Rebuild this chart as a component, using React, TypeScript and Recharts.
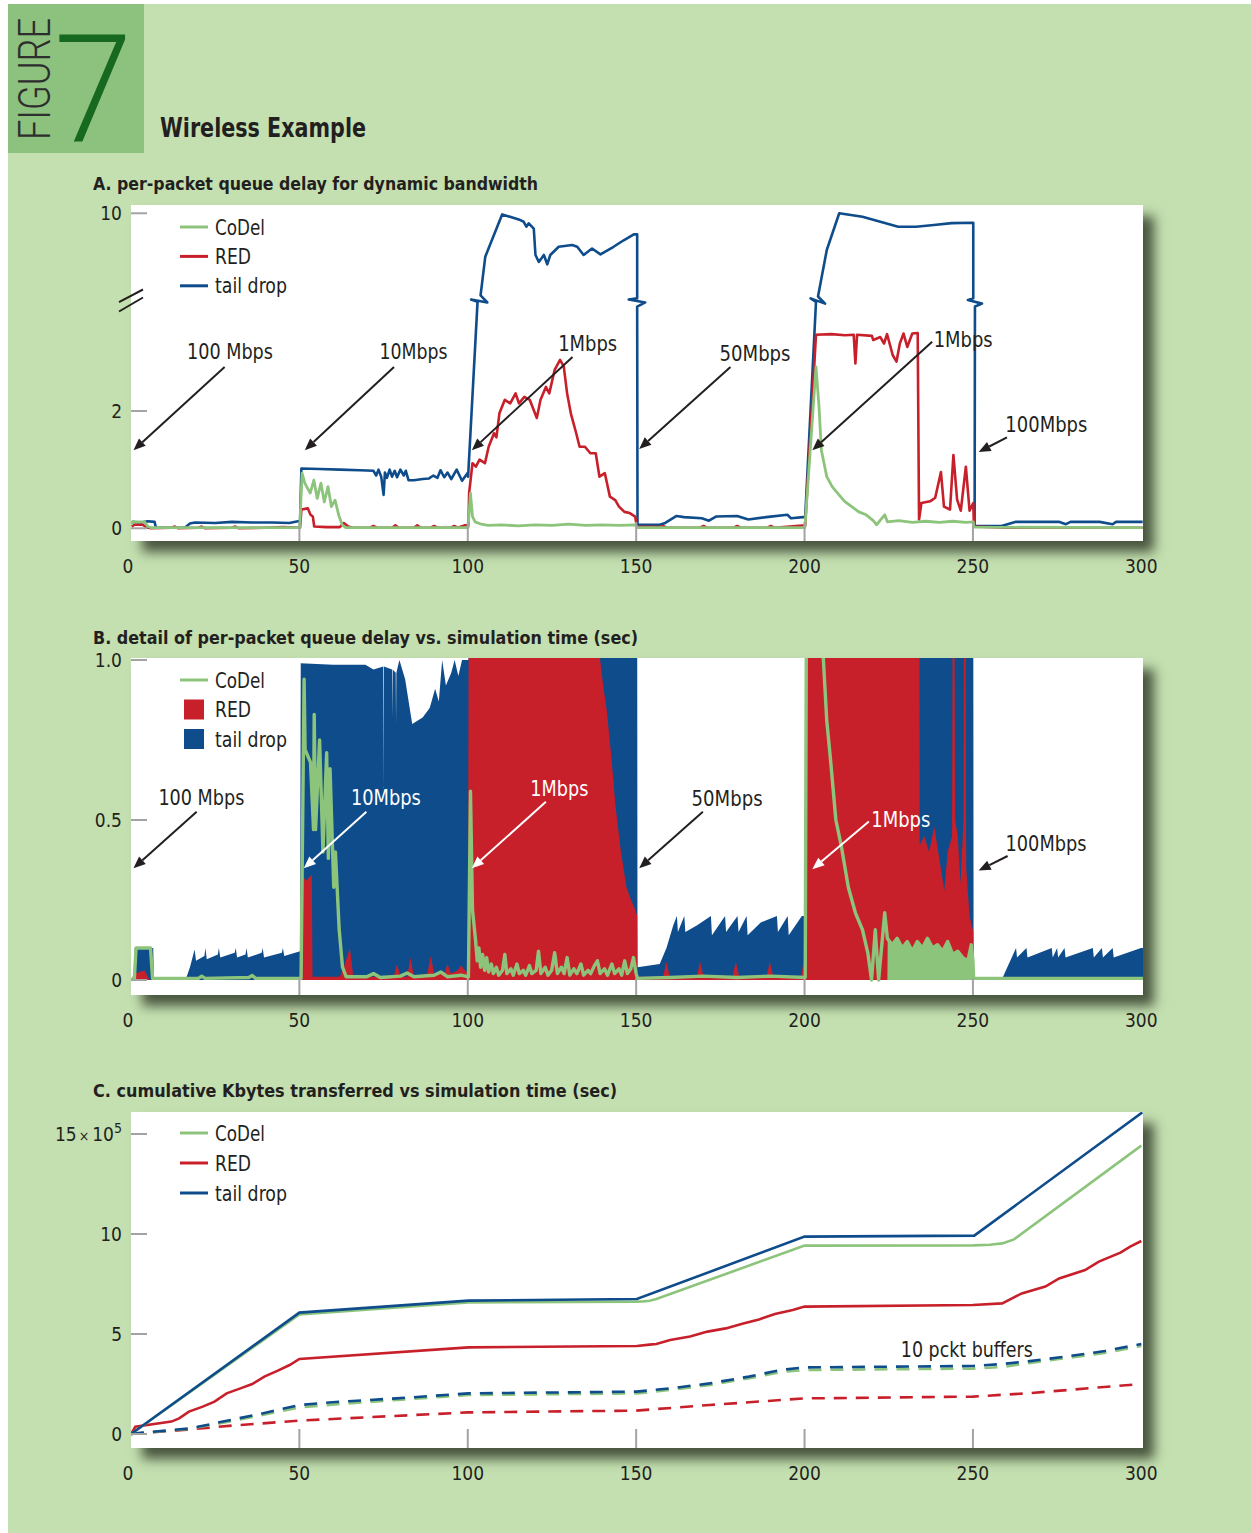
import React from 'react'
import {
  ComposedChart, Line, Area, XAxis, YAxis, ReferenceLine, ReferenceDot, Legend,
} from 'recharts'

const INK = '#231f20'
const CODEL = '#8cc47c'
const RED = '#c8202a'
const TAIL = '#0f4c8b'
const TICK = '#a3a3a3'
const BG = '#c4e0b0'
const FONT = "'DejaVu Sans Condensed', 'DejaVu Sans', sans-serif"

type Pt = [number, number]

// ---- shared axis values ----
const xTicks = [0, 50, 100, 150, 200, 250, 300]

// ---- A. per-packet queue delay (seconds) ----
const tailDropA: Pt[] = [
  [0.2, 0.11], [3, 0.1], [5, 0.12], [7, 0.11], [7.4, 0.01], [16, 0.01], [17.5, 0.08], [19, 0.1], [25, 0.09],
  [30, 0.11], [36, 0.1], [42, 0.1], [47, 0.09], [49.6, 0.12], [50.2, 0.12], [50.6, 1.02], [56, 1.01], [62, 1.0],
  [68, 0.99], [72, 0.98], [72.8, 0.9], [73.5, 1.0], [74.3, 0.88], [75, 0.57], [75.4, 0.95], [76, 0.86], [76.8, 1.0],
  [77.5, 0.88], [78.3, 0.98], [79, 0.87], [80, 1.0], [81, 0.9], [81.6, 0.98], [82.4, 0.82], [84, 0.82], [86.6, 0.84],
  [88.5, 0.85], [89.8, 0.9], [91, 0.86], [91.9, 0.99], [93, 0.87], [94, 0.95], [95.1, 0.84], [96.7, 1.0], [98.3, 0.81],
  [99.9, 0.94], [100.1, 0.88], [102.9, 3.86], [101.0, 3.9], [105.8, 3.85], [103.8, 4.19], [105.2, 6.93], [110.2, 9.92],
  [115.6, 9.52], [116.6, 9.4], [117.4, 9.05], [118.1, 9.29], [119.6, 8.92], [120.1, 7.05], [121.1, 6.56], [122.6, 7.05],
  [123.6, 6.39], [124.5, 7.05], [127, 7.63], [131, 7.76], [132.5, 7.63], [134.4, 7.05], [136.9, 7.51], [139.4, 7.09],
  [143.3, 7.63], [146.3, 8.09], [149.3, 8.51], [150.3, 8.51], [150.3, 3.98], [147.8, 3.9], [152.7, 3.85], [150.3, 3.78],
  [150.4, 0.06], [157, 0.06], [158.4, 0.085], [162, 0.21], [164.2, 0.19], [169.5, 0.17], [171.6, 0.13], [173.7, 0.2],
  [180, 0.21], [183.3, 0.15], [188.6, 0.19], [194.9, 0.23], [196, 0.17], [199.6, 0.19], [200.2, 0.2], [203.4, 3.86],
  [201.8, 3.98], [206.1, 3.83], [204, 4.11], [206.6, 7.4], [210.3, 10], [217.2, 9.75], [222.5, 9.4], [227.8, 9.05],
  [233.1, 9.05], [238.4, 9.17], [243.7, 9.3], [250.1, 9.33], [250.1, 3.98], [248.5, 3.89], [252.7, 3.83], [250.6, 3.78],
  [250.5, 0.04], [258.5, 0.04], [262.8, 0.11], [275.5, 0.11], [277.6, 0.07], [279, 0.11], [287.6, 0.11], [291.5, 0.07],
  [292.5, 0.11], [300.4, 0.11],
]
const redA: Pt[] = [
  [0.2, 0.03], [1, 0.06], [3.5, 0.06], [4.5, 0.02], [6, 0.0], [12, 0.01], [13, 0.03], [14, 0.0], [20, 0.01], [21, 0.03],
  [22, 0.0], [30, 0.01], [31, 0.03], [32, 0], [40, 0.01], [45, 0.02], [50.2, 0.01], [50.6, 0.32], [52.5, 0.34], [53.3, 0.23],
  [54, 0.2], [54.4, 0.03], [58, 0.02], [62, 0.02], [63.2, 0.09], [64.5, 0.03], [66, 0.01], [71, 0.01], [72, 0.04], [73, 0.01],
  [77.5, 0.01], [78.5, 0.05], [79.5, 0.01], [84, 0.01], [85, 0.05], [86, 0.01], [89, 0.01], [90, 0.04], [91, 0.01], [95, 0.01],
  [96, 0.04], [97, 0.01], [99, 0.05], [100.2, 0.05], [100.4, 0.6], [101.4, 1.11], [102.4, 1.05], [103.5, 1.17], [105.1, 1.11],
  [106.2, 1.39], [107.8, 1.62], [108.5, 1.55], [109.4, 1.96], [111, 2.19], [112.6, 2.13], [114.2, 2.3], [115.2, 2.13],
  [116.8, 2.24], [118.4, 2.19], [120.5, 1.88], [121.6, 2.19], [123.2, 2.41], [124.2, 2.3], [125.8, 2.7], [127.4, 2.87],
  [128.5, 2.76], [129.5, 2.3], [130.6, 1.96], [132.2, 1.62], [133.2, 1.39], [134.8, 1.39], [136.4, 1.28], [138, 1.28],
  [139.1, 0.88], [140.7, 0.94], [142.2, 0.54], [143.8, 0.48], [144.9, 0.37], [146.5, 0.28], [148.1, 0.26], [149.7, 0.2],
  [150.2, 0.03], [157, 0.02], [158, 0.04], [159, 0.01], [169, 0.01], [170, 0.04], [171, 0.01], [179, 0.01], [180, 0.04],
  [181, 0.01], [189, 0.01], [190, 0.04], [191, 0.01], [200.2, 0.05], [203.4, 3.3], [208, 3.31], [212, 3.29], [214.6, 3.3],
  [215.1, 2.81], [215.6, 3.3], [220, 3.28], [220.4, 3.21], [222.5, 3.26], [223.6, 3.15], [224.5, 3.31], [226.2, 2.95],
  [227.3, 2.84], [228.3, 3.15], [229.4, 3.32], [230.5, 3.09], [232, 3.32], [233.6, 3.33], [234, 0.15], [234.7, 0.43],
  [237.3, 0.46], [238.8, 0.52], [240.5, 0.96], [241.4, 0.37], [243.2, 0.32], [244.2, 1.25], [245.3, 0.49], [246.4, 0.3],
  [247.9, 1.05], [249, 0.3], [250.1, 0.43], [250.3, 0.03], [260, 0.01], [300.4, 0.01],
]
const codelA: Pt[] = [
  [0.2, 0.06], [0.5, 0.11], [4, 0.11], [5, 0.03], [6, 0.01], [50.1, 0.01], [50.8, 0.94], [51.6, 0.77], [53.2, 0.6],
  [54.3, 0.82], [55.3, 0.51], [56.4, 0.77], [57.4, 0.45], [58.5, 0.71], [59.5, 0.37], [60.6, 0.48], [61.7, 0.22],
  [62.7, 0.06], [63.8, 0.01], [100.1, 0.01], [100.8, 0.6], [101.4, 0.2], [102.2, 0.11], [104, 0.07], [106, 0.05],
  [110, 0.06], [115, 0.04], [120, 0.06], [125, 0.05], [130, 0.07], [135, 0.05], [140, 0.06], [145, 0.05], [149.8, 0.06],
  [150.3, 0.01], [200.1, 0.01], [203.4, 2.75], [204.3, 2.07], [205, 1.33], [206.6, 0.88], [208.2, 0.71], [209.8, 0.6],
  [211.9, 0.46], [214, 0.37], [216.1, 0.28], [218.3, 0.23], [220.4, 0.13], [221.4, 0.06], [222.5, 0.14], [223.8, 0.23],
  [224.6, 0.11], [228, 0.13], [232, 0.1], [236, 0.12], [240, 0.1], [244, 0.12], [248, 0.1], [250.1, 0.11], [250.3, 0.02],
  [300.4, 0.01],
]
const yTicksA = [0, 2, 10]

// ---- B. detail of per-packet queue delay (seconds) ----
const tailDropB: Pt[] = [
  [0, 0], [1, 0], [1.1, 0.1], [6.6, 0.1], [6.8, 0], [16.2, 0], [17.5, 0.04], [18.9, 0.095], [19.3, 0.06], [21.8, 0.075],
  [22.1, 0.1], [22.5, 0.065], [25.8, 0.08], [26.1, 0.1], [26.5, 0.07], [30.8, 0.085], [31.1, 0.1], [31.5, 0.07], [34, 0.08],
  [34.3, 0.1], [34.7, 0.07], [38.8, 0.085], [39.1, 0.1], [39.5, 0.07], [44.8, 0.085], [45.1, 0.1], [45.5, 0.075],
  [50.2, 0.09], [50.4, 0.99], [60, 0.985], [69.6, 0.985], [72, 0.97], [74.9, 0.98], [75.0, 0.6], [75.1, 0.98], [77.5, 0.97],
  [77.6, 0.82], [77.7, 0.97], [78.6, 0.96], [78.7, 0.8], [78.8, 0.96], [79.7, 1.0], [81.4, 0.94], [83.5, 0.8], [86.6, 0.82],
  [88.7, 0.85], [90.3, 0.91], [91.4, 0.87], [92.4, 1.0], [93.5, 0.92], [95.1, 0.96], [96.1, 1.0], [97.2, 0.95], [98.3, 1.0],
  [100.2, 1.0], [100.3, 1.2], [150.3, 1.2], [150.4, 0.04], [157, 0.05], [159, 0.1], [161, 0.17], [162.1, 0.2], [162.4, 0.15],
  [164.3, 0.2], [164.6, 0.15], [168, 0.17], [172.2, 0.2], [172.5, 0.14], [176.4, 0.2], [176.7, 0.15], [180.1, 0.2],
  [180.4, 0.15], [182.8, 0.2], [183.1, 0.14], [187, 0.18], [191.8, 0.2], [192.1, 0.15], [195, 0.2], [195.3, 0.14],
  [199.2, 0.2], [200.2, 0.2], [200.3, 1.2], [250.1, 1.2], [250.2, 0], [258.5, 0], [262.8, 0.1], [263.1, 0.07], [265.9, 0.1],
  [266.2, 0.07], [273.4, 0.1], [273.7, 0.07], [275, 0.1], [275.3, 0.07], [277.2, 0.1], [277.5, 0.07], [285.6, 0.1],
  [285.9, 0.07], [288.3, 0.1], [288.6, 0.07], [291.5, 0.1], [291.8, 0.07], [299.9, 0.1], [300.5, 0.1],
]
const redB: Pt[] = [
  [0, 0], [1, 0.02], [4, 0.03], [5.5, 0], [50.4, 0], [50.6, 0.33], [52, 0.31], [53.7, 0.33], [53.9, 0.01], [62, 0.01],
  [63.5, 0.05], [65, 0.1], [66, 0.01], [78, 0.01], [79, 0.05], [80, 0.01], [82, 0.01], [83, 0.07], [84, 0.01], [88, 0.02],
  [89, 0.075], [90, 0.02], [93, 0.02], [94, 0.05], [95, 0.02], [97, 0.03], [98, 0.045], [100, 0.02], [100.3, 1.2],
  [139, 1.2], [139.3, 1.0], [140.2, 0.92], [141.3, 0.84], [142.6, 0.7], [143.9, 0.54], [145.5, 0.4], [147.1, 0.29],
  [148.5, 0.25], [149.7, 0.22], [150.3, 0.2], [150.4, 0.01], [158, 0.01], [159, 0.057], [160, 0.01], [168, 0.01],
  [169, 0.057], [170, 0.01], [178.6, 0.01], [179.6, 0.057], [180.6, 0.01], [188.7, 0.01], [189.7, 0.057], [190.7, 0.01],
  [199, 0.01], [199.7, 0.057], [200.2, 0.02], [200.3, 1.2], [234.1, 1.2], [234.2, 0.42], [235.5, 0.45], [237, 0.4],
  [238.5, 0.48], [240, 0.38], [241.5, 0.28], [242.5, 0.4], [243.8, 0.45], [244, 1.2], [244.5, 1.2], [244.7, 0.5],
  [245.5, 0.45], [246.3, 0.3], [247.2, 0.5], [247.4, 1.2], [247.8, 1.2], [248, 0.35], [249, 0.2], [250.1, 0.15],
  [250.2, 0], [300.5, 0],
]
const codelB: Pt[] = [
  [0, 0], [1, 0.005], [1.5, 0.1], [5.8, 0.1], [6.4, 0.005], [20, 0.005], [21, 0.012], [22, 0.005], [35, 0.008], [36, 0.014],
  [37, 0.005], [50.5, 0.005], [51.4, 0.94], [51.7, 0.72], [53.3, 0.68], [54.2, 0.47], [54.4, 0.83], [54.8, 0.47], [56, 0.75],
  [57, 0.4], [58.1, 0.71], [58.6, 0.38], [59.1, 0.66], [60.2, 0.29], [60.7, 0.4], [61.8, 0.16], [62.8, 0.04], [63.9, 0.01],
  [70, 0.01], [72, 0.02], [74, 0.008], [80, 0.012], [82, 0.022], [84, 0.01], [90, 0.015], [92, 0.025], [94, 0.01],
  [98, 0.015], [100.2, 0.01], [100.8, 0.59], [101.4, 0.22], [102.3, 0.125], [102.8, 0.06], [103.3, 0.1], [103.8, 0.04],
  [104.4, 0.08], [105, 0.03], [105.6, 0.07], [106.2, 0.025], [107, 0.05], [107.6, 0.02], [108.5, 0.04], [109.2, 0.015],
  [110.3, 0.03], [111, 0.08], [111.6, 0.02], [112.8, 0.035], [113.5, 0.015], [114.6, 0.05], [115.3, 0.02], [116.5, 0.03],
  [117.2, 0.015], [118.3, 0.045], [119, 0.02], [120.3, 0.03], [121, 0.09], [121.7, 0.02], [123, 0.04], [123.8, 0.015],
  [124.9, 0.03], [125.8, 0.085], [126.6, 0.02], [127.8, 0.04], [128.6, 0.02], [129.5, 0.07], [130.3, 0.015], [131.5, 0.035],
  [132.4, 0.02], [133.6, 0.05], [134.4, 0.015], [135.7, 0.03], [136.5, 0.02], [137.6, 0.045], [138.5, 0.06], [139.3, 0.02],
  [140.6, 0.035], [141.5, 0.015], [142.8, 0.05], [143.6, 0.02], [144.9, 0.035], [145.7, 0.015], [146.6, 0.06], [147.4, 0.02],
  [148.4, 0.035], [149.2, 0.07], [150, 0.02], [150.4, 0.005],
  [160, 0.008], [170, 0.012], [180, 0.008], [190, 0.012], [200.2, 0.008], [200.6, 1.3], [205, 1.1], [205.6, 1.0],
  [206.6, 0.81], [207.7, 0.69], [209.3, 0.5], [210.9, 0.42], [213, 0.29], [215.1, 0.21], [217.2, 0.157], [218.8, 0.084],
  [219.9, 0], [221, 0.157], [222, 0], [223.8, 0.21], [224.6, 0.13], [226, 0.11], [227.5, 0.13], [229, 0.1], [230.5, 0.12],
  [232, 0.09], [233.5, 0.12], [235, 0.1], [236.5, 0.13], [238, 0.1], [239.5, 0.11], [241, 0.09], [242.5, 0.12], [244, 0.08],
  [245.5, 0.09], [247, 0.07], [248.5, 0.06], [249.5, 0.11], [250, 0.06], [250.2, 0.005], [300.5, 0.005],
]
// dense CoDel noise after the second 1Mbps step reads as a filled band
const codelBandB: Pt[] = [
  [224.6, 0], [224.7, 0.13], [226, 0.11], [227.5, 0.13], [229, 0.1], [230.5, 0.12], [232, 0.09], [233.5, 0.12], [235, 0.1],
  [236.5, 0.13], [238, 0.1], [239.5, 0.11], [241, 0.09], [242.5, 0.12], [244, 0.08], [245.5, 0.09], [247, 0.07],
  [248.5, 0.06], [249.5, 0.11], [250, 0.06], [250.1, 0],
]
const yTicksB = [0, 0.5, 1.0]

// ---- C. cumulative Kbytes (x 10^5) ----
const tailDropC: Pt[] = [[0, 0], [50, 6.07], [100.2, 6.67], [150.2, 6.75], [200, 9.87], [250.4, 9.92], [300.3, 16.08]]
const codelC: Pt[] = [
  [0, 0], [50, 5.98], [100.2, 6.58], [150.2, 6.62], [152, 6.63], [154, 6.66], [156, 6.75], [200, 9.42], [250, 9.43],
  [255, 9.46], [258.7, 9.53], [262.2, 9.73], [300, 14.42],
]
const redC: Pt[] = [
  [0, 0], [1.3, 0.37], [12, 0.62], [14.3, 0.78], [17.2, 1.12], [21.3, 1.37], [24.8, 1.62], [28.4, 2.03], [32.5, 2.28],
  [36, 2.5], [39.6, 2.87], [43.6, 3.17], [47.1, 3.45], [50, 3.75], [100.2, 4.33], [150.2, 4.4], [154, 4.47], [156, 4.5],
  [160.1, 4.7], [166, 4.87], [171.2, 5.12], [176.6, 5.28], [181.8, 5.53], [186.5, 5.73], [191.2, 6.0], [196.5, 6.2],
  [200, 6.37], [250, 6.45], [258.7, 6.53], [261.6, 6.78], [264.5, 7.03], [271.5, 7.37], [275.6, 7.78], [283.3, 8.2],
  [287.4, 8.62], [293.8, 9.07], [296.7, 9.37], [300, 9.65],
]
const tailDropC10: Pt[] = [
  [0, 0], [1.3, 0.03], [17.6, 0.28], [27.3, 0.62], [39, 1.03], [50, 1.45], [62.4, 1.62], [78.8, 1.78], [100.2, 2.03],
  [150.2, 2.12], [160, 2.28], [171.8, 2.53], [183.5, 2.87], [192.9, 3.2], [200, 3.33], [250, 3.4], [258.7, 3.5],
  [265.7, 3.62], [277.5, 3.87], [289.2, 4.15], [300, 4.5],
]
const codelC10: Pt[] = [
  [0, 0], [17, 0.25], [27, 0.55], [39, 0.95], [50, 1.33], [62, 1.5], [79, 1.7], [100.2, 1.95], [150.2, 2.03], [160, 2.2],
  [172, 2.45], [184, 2.8], [193, 3.1], [200, 3.2], [250, 3.27], [258.7, 3.35], [265.7, 3.53], [278, 3.8], [289, 4.05],
  [300, 4.4],
]
const redC10: Pt[] = [
  [0, 0], [15.5, 0.2], [30, 0.42], [50, 0.67], [100, 1.08], [150, 1.17], [171.8, 1.45], [200, 1.78], [250, 1.87],
  [265.7, 2.03], [300, 2.5],
]
const yTicksC = [0, 5, 10, 15]

// ---- annotations: text centre, arrow tail, arrow head (data coords) ----
type Note = { text: string; at: Pt; from: Pt; to: Pt; w: number; color: string }
const notesA: Note[] = [
  { text: '100 Mbps', at: [29.4, 3.0], from: [27.8, 2.75], to: [0.74, 1.33], w: 86, color: INK },
  { text: '10Mbps', at: [83.9, 3.0], from: [78.1, 2.75], to: [51.6, 1.33], w: 68, color: INK },
  { text: '1Mbps', at: [135.6, 3.15], from: [131.1, 2.92], to: [101.2, 1.33], w: 59, color: INK },
  { text: '50Mbps', at: [185.3, 2.97], from: [178, 2.75], to: [150.9, 1.35], w: 71, color: INK },
  { text: '1Mbps', at: [247.1, 3.21], from: [237.9, 3.18], to: [202.3, 1.33], w: 59, color: INK },
  { text: '100Mbps', at: [271.8, 1.76], from: [260.1, 1.55], to: [251.7, 1.3], w: 82, color: INK },
]
const notesB: Note[] = [
  { text: '100 Mbps', at: [20.9, 0.568], from: [19.5, 0.526], to: [0.74, 0.349], w: 86, color: INK },
  { text: '10Mbps', at: [75.7, 0.568], from: [69.9, 0.526], to: [51.3, 0.349], w: 70, color: '#fff' },
  { text: '1Mbps', at: [127.2, 0.596], from: [123.2, 0.557], to: [101.2, 0.349], w: 58, color: '#fff' },
  { text: '50Mbps', at: [177, 0.566], from: [169.8, 0.526], to: [150.9, 0.349], w: 71, color: INK },
  { text: '1Mbps', at: [228.6, 0.5], from: [219.1, 0.495], to: [202.3, 0.346], w: 59, color: '#fff' },
  { text: '100Mbps', at: [271.7, 0.424], from: [260.3, 0.3875], to: [251.7, 0.342], w: 81, color: INK },
]
const bufferNote: Note = { text: '10 pckt buffers', at: [248.2, 4.2], from: [0, 0], to: [0, 0], w: 132, color: INK }

// ---- panel A broken axis: linear up to the break, compressed above ----
const BREAK = 3.9
const TOP_REAL = 10
const TOP_D = 5.37
const toD = (v: number) => (v <= BREAK ? v : BREAK + ((v - BREAK) * (TOP_D - BREAK)) / (TOP_REAL - BREAK))

const pts = (a: Pt[], f: (v: number) => number = (v) => v) => a.map(([t, v]) => ({ t, v: f(v) }))

// layout
const PLOT_LEFT = 131
const PLOT_W = 1012
const CHART_W = PLOT_LEFT + PLOT_W + 20
const MARGIN = { top: 10, right: 20, bottom: 0, left: 0 }

const xTick = (tickH: number) => (p: any) => {
  const v = p.payload.value
  return (
    <g>
      {v > 0 && v < 300 && <line x1={p.x} x2={p.x} y1={p.y} y2={p.y - tickH} stroke={TICK} strokeWidth={2} />}
      <text x={v === 0 ? p.x - 3 : p.x} y={p.y + 32} textAnchor="middle" fontSize={19} fontFamily={FONT} fill={INK}>{v}</text>
    </g>
  )
}

const yTick = (label: (v: number) => React.ReactNode) => (p: any) => {
  const v = p.payload.value
  if (Math.abs(v - BREAK) < 1e-6 && label(v) === null) {
    return (
      <g stroke={INK} strokeWidth={2}>
        <line x1={p.x - 12} y1={p.y + 2.6} x2={p.x + 12} y2={p.y - 10} />
        <line x1={p.x - 12} y1={p.y + 12} x2={p.x + 12} y2={p.y - 2} />
      </g>
    )
  }
  return (
    <g>
      <line x1={p.x} x2={p.x + 16} y1={p.y} y2={p.y} stroke={TICK} strokeWidth={2} />
      <text x={p.x - 9} y={p.y + 7} textAnchor="end" fontSize={19} fontFamily={FONT} fill={INK}>{label(v)}</text>
    </g>
  )
}

const arrowShape = (color: string) => (p: any) => {
  const { x1, y1, x2, y2 } = p
  const a = Math.atan2(y2 - y1, x2 - x1)
  const L = 12
  const W = 5
  const bx = x2 - L * Math.cos(a)
  const by = y2 - L * Math.sin(a)
  const nx = -Math.sin(a) * W
  const ny = Math.cos(a) * W
  return (
    <g>
      <line x1={x1} y1={y1} x2={bx} y2={by} stroke={color} strokeWidth={2} />
      <polygon points={`${x2},${y2} ${bx + nx},${by + ny} ${bx - nx},${by - ny}`} fill={color} />
    </g>
  )
}

const textShape = (n: Note) => (p: any) => (
  <text x={p.cx} y={p.cy + 7} textAnchor="middle" fill={n.color} fontSize={21} fontFamily={FONT}
    textLength={n.w} lengthAdjust="spacingAndGlyphs">{n.text}</text>
)

function renderNotes(notes: Note[]) {
  const out: React.ReactNode[] = []
  notes.forEach((n, i) => {
    out.push(
      <ReferenceLine key={`a${i}`} segment={[{ x: n.from[0], y: n.from[1] }, { x: n.to[0], y: n.to[1] }]}
        shape={arrowShape(n.color)} ifOverflow="visible" />,
    )
    out.push(<ReferenceDot key={`t${i}`} x={n.at[0]} y={n.at[1]} r={0} shape={textShape(n)} ifOverflow="visible" />)
  })
  return out
}

type KeyRow = { label: string; color: string; box?: boolean; w: number }
function Key({ rows, gap }: { rows: KeyRow[]; gap: number }) {
  return (
    <svg width={130} height={20 + gap * 2 + 10} style={{ display: 'block' }}>
      {rows.map((r, i) => {
        const y = 10 + i * gap
        return (
          <g key={r.label}>
            {r.box
              ? <rect x={8} y={y - 10} width={20} height={20} fill={r.color} />
              : <line x1={4} x2={32} y1={y} y2={y} stroke={r.color} strokeWidth={3} />}
            <text x={39} y={y + 7.5} fontSize={21} fontFamily={FONT} fill={INK}
              textLength={r.w} lengthAdjust="spacingAndGlyphs">{r.label}</text>
          </g>
        )
      })}
    </svg>
  )
}

const lineRows: KeyRow[] = [
  { label: 'CoDel', color: CODEL, w: 50 },
  { label: 'RED', color: RED, w: 36 },
  { label: 'tail drop', color: TAIL, w: 72 },
]
const boxRows: KeyRow[] = [
  { label: 'CoDel', color: CODEL, w: 50 },
  { label: 'RED', color: RED, box: true, w: 36 },
  { label: 'tail drop', color: TAIL, box: true, w: 72 },
]

function xAxis(tickH: number) {
  return (
    <XAxis type="number" dataKey="t" domain={[0, 300.5]} ticks={xTicks} interval={0} allowDataOverflow
      tickLine={false} axisLine={false} tickSize={0} tickMargin={0} tick={xTick(tickH)} height={40} />
  )
}

function PlotBox({ top, height }: { top: number; height: number }) {
  return (
    <div style={{
      position: 'absolute', left: PLOT_LEFT, top, width: PLOT_W, height, background: '#fff',
      boxShadow: '11px 11px 11px rgba(38,48,32,0.78)',
    }} />
  )
}

function ChartA() {
  const labelA = (v: number) => {
    if (Math.abs(v - BREAK) < 1e-6) return null
    const real = yTicksA.find((r) => Math.abs(toD(r) - v) < 1e-6)
    return real === undefined ? '' : String(real)
  }
  return (
    <div style={{ position: 'absolute', left: 0, top: 195 }}>
      <ComposedChart width={CHART_W} height={386} margin={MARGIN}>
        {xAxis(19)}
        <YAxis type="number" domain={[-0.2165, 5.511]} ticks={[...yTicksA.map(toD), BREAK]} interval={0} width={PLOT_LEFT}
          allowDataOverflow tickLine={false} axisLine={false} tickSize={0} tickMargin={0} tick={yTick(labelA)} />
        <Line data={pts(tailDropA, toD)} dataKey="v" name="tail drop" type="linear" stroke={TAIL} strokeWidth={2.6}
          dot={false} isAnimationActive={false} strokeLinejoin="round" />
        <Line data={pts(redA)} dataKey="v" name="RED" type="linear" stroke={RED} strokeWidth={2.6}
          dot={false} isAnimationActive={false} strokeLinejoin="round" />
        <Line data={pts(codelA)} dataKey="v" name="CoDel" type="linear" stroke={CODEL} strokeWidth={2.8}
          dot={false} isAnimationActive={false} strokeLinejoin="round" />
        {renderNotes(notesA)}
        <Legend layout="vertical" align="center" verticalAlign="middle"
          wrapperStyle={{ left: 176, top: 22, width: 130 }} content={() => <Key rows={lineRows} gap={29.4} />} />
      </ComposedChart>
    </div>
  )
}

function ChartB() {
  const labelB = (v: number) => (v === 0 ? '0' : v.toFixed(1))
  return (
    <div style={{ position: 'absolute', left: 0, top: 648 }}>
      <ComposedChart width={CHART_W} height={387} margin={MARGIN}>
        {xAxis(17)}
        <YAxis type="number" domain={[-0.0469, 1.00625]} ticks={yTicksB} interval={0} width={PLOT_LEFT}
          allowDataOverflow tickLine={false} axisLine={false} tickSize={0} tickMargin={0} tick={yTick(labelB)} />
        <Area data={pts(tailDropB)} dataKey="v" name="tail drop" type="linear" stroke="none" fill={TAIL}
          fillOpacity={1} isAnimationActive={false} />
        <Area data={pts(redB)} dataKey="v" name="RED" type="linear" stroke="none" fill={RED}
          fillOpacity={1} isAnimationActive={false} />
        <Area data={pts(codelBandB)} dataKey="v" name="CoDel band" type="linear" stroke="none" fill={CODEL}
          fillOpacity={1} isAnimationActive={false} legendType="none" />
        <Line data={pts(codelB)} dataKey="v" name="CoDel" type="linear" stroke={CODEL} strokeWidth={3.4}
          dot={false} isAnimationActive={false} strokeLinejoin="round" />
        {renderNotes(notesB)}
        <Legend layout="vertical" align="center" verticalAlign="middle"
          wrapperStyle={{ left: 176, top: 22, width: 130 }} content={() => <Key rows={boxRows} gap={29.5} />} />
      </ComposedChart>
    </div>
  )
}

function ChartC() {
  const labelC = (v: number) =>
    v === 15
      ? (<><tspan>15</tspan><tspan fontSize={14} dx={2}>×</tspan><tspan dx={3}>10</tspan><tspan fontSize={14} dy={-8}>5</tspan></>)
      : String(v)
  return (
    <div style={{ position: 'absolute', left: 0, top: 1102 }}>
      <ComposedChart width={CHART_W} height={386} margin={MARGIN}>
        {xAxis(19)}
        <YAxis type="number" domain={[-0.7, 16.1]} ticks={yTicksC} interval={0} width={PLOT_LEFT}
          allowDataOverflow tickLine={false} axisLine={false} tickSize={0} tickMargin={0} tick={yTick(labelC)} />
        <Line data={pts(redC10)} dataKey="v" name="RED 10" type="linear" stroke={RED} strokeWidth={2.6}
          strokeDasharray="13 9" dot={false} isAnimationActive={false} legendType="none" />
        <Line data={pts(codelC10)} dataKey="v" name="CoDel 10" type="linear" stroke={CODEL} strokeWidth={2.6}
          strokeDasharray="13 9" dot={false} isAnimationActive={false} legendType="none" />
        <Line data={pts(tailDropC10)} dataKey="v" name="tail drop 10" type="linear" stroke={TAIL} strokeWidth={2.6}
          strokeDasharray="13 9" dot={false} isAnimationActive={false} legendType="none" />
        <Line data={pts(redC)} dataKey="v" name="RED" type="linear" stroke={RED} strokeWidth={2.6}
          dot={false} isAnimationActive={false} />
        <Line data={pts(codelC)} dataKey="v" name="CoDel" type="linear" stroke={CODEL} strokeWidth={2.6}
          dot={false} isAnimationActive={false} />
        <Line data={pts(tailDropC)} dataKey="v" name="tail drop" type="linear" stroke={TAIL} strokeWidth={2.6}
          dot={false} isAnimationActive={false} />
        <ReferenceDot x={bufferNote.at[0]} y={bufferNote.at[1]} r={0} ifOverflow="visible" shape={textShape(bufferNote)} />
        <Legend layout="vertical" align="center" verticalAlign="middle"
          wrapperStyle={{ left: 176, top: 21, width: 130 }} content={() => <Key rows={lineRows} gap={30} />} />
      </ComposedChart>
    </div>
  )
}

export default function App() {
  return (
    <div style={{ position: 'absolute', left: 0, top: 0, width: 1251, height: 1533, background: '#fff', overflow: 'hidden' }}>
      <div style={{ position: 'absolute', left: 8, top: 4, width: 1243, height: 1529, background: BG }} />
      <div style={{ position: 'absolute', left: 8, top: 4, width: 136, height: 149, background: '#8dc27e' }} />
      <svg width={1251} height={1533} style={{ position: 'absolute', left: 0, top: 0 }}>
        <text transform="translate(50,140) rotate(-90) scale(1,1.18)" fontFamily="Roboto, 'DejaVu Sans', sans-serif"
          fontWeight={300} fontSize={37} fill="#2e2e2e" textLength={122} lengthAdjust="spacingAndGlyphs">FIGURE</text>
        <text x={54} y={141} fontFamily="Roboto, 'DejaVu Sans', sans-serif" fontWeight={300} fontSize={150}
          fill="#17691f" textLength={78} lengthAdjust="spacingAndGlyphs">7</text>
        <text x={160} y={137} fontFamily={FONT} fontWeight="bold" fontSize={27} fill={INK}
          textLength={206} lengthAdjust="spacingAndGlyphs">Wireless Example</text>
        <text x={93} y={190} fontFamily={FONT} fontWeight="bold" fontSize={18.5} fill={INK}
          textLength={445} lengthAdjust="spacingAndGlyphs">A. per-packet queue delay for dynamic bandwidth</text>
        <text x={93} y={644} fontFamily={FONT} fontWeight="bold" fontSize={18.5} fill={INK}
          textLength={545} lengthAdjust="spacingAndGlyphs">B. detail of per-packet queue delay vs. simulation time (sec)</text>
        <text x={93} y={1097} fontFamily={FONT} fontWeight="bold" fontSize={18.5} fill={INK}
          textLength={524} lengthAdjust="spacingAndGlyphs">C. cumulative Kbytes transferred vs simulation time (sec)</text>
      </svg>
      <PlotBox top={205} height={336} />
      <PlotBox top={658} height={337} />
      <PlotBox top={1112} height={336} />
      <ChartA />
      <ChartB />
      <ChartC />
    </div>
  )
}
